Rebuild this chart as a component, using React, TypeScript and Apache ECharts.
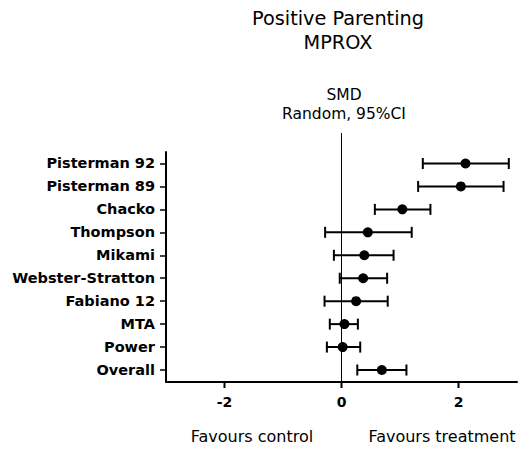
import React, { useEffect, useRef } from "react";
import * as echarts from "echarts";

const categories = [
  "Pisterman 92",
  "Pisterman 89",
  "Chacko",
  "Thompson",
  "Mikami",
  "Webster-Stratton",
  "Fabiano 12",
  "MTA",
  "Power",
  "Overall",
];
const estimates = [2.12, 2.04, 1.04, 0.45, 0.39, 0.37, 0.25, 0.05, 0.02, 0.69];
const lower = [1.39, 1.31, 0.57, -0.28, -0.13, -0.03, -0.29, -0.2, -0.25, 0.27];
const upper = [2.86, 2.77, 1.52, 1.2, 0.89, 0.78, 0.79, 0.28, 0.32, 1.11];
const xTicks = [-2, 0, 2];
const xMin = -3;
const xMax = 3;

const FONT = "DejaVu Sans";

export default function App() {
  const ref = useRef<HTMLDivElement>(null);
  useEffect(() => {
    if (!ref.current) return;
    const chart = echarts.init(ref.current, undefined, { renderer: "svg" });
    const errData = categories.map((c, i) => [lower[i], upper[i], i]);
    const ptData = categories.map((c, i) => [estimates[i], c]);
    chart.setOption({
      animation: false,
      grid: { left: 166, top: 152, width: 351, height: 229.5, containLabel: false },
      xAxis: {
        type: "value",
        min: xMin,
        max: xMax,
        splitLine: { show: false },
        axisLine: { show: true, onZero: false, lineStyle: { color: "#000", width: 2 } },
        axisTick: { show: false },
        axisLabel: {
          customValues: xTicks,
          color: "#000",
          fontFamily: FONT,
          fontWeight: "bold",
          fontSize: 14,
          margin: 13,
        },
      },
      yAxis: {
        type: "category",
        data: categories,
        inverse: true,
        axisLine: { show: true, onZero: false, lineStyle: { color: "#000", width: 2 } },
        axisTick: { show: true, alignWithLabel: true, length: 6, lineStyle: { color: "#000", width: 1.5 } },
        axisLabel: {
          color: "#000",
          fontFamily: FONT,
          fontWeight: "bold",
          fontSize: 14.5,
          margin: 11,
        },
        splitLine: { show: false },
      },
      series: [
        {
          type: "custom",
          data: errData,
          encode: { x: [0, 1], y: 2 },
          renderItem: (params: any, api: any) => {
            const y = api.value(2);
            const lo = api.coord([api.value(0), y]);
            const hi = api.coord([api.value(1), y]);
            const h = 5.5;
            const style = { stroke: "#000", lineWidth: 2 };
            return {
              type: "group",
              children: [
                { type: "line", shape: { x1: lo[0], y1: lo[1], x2: hi[0], y2: hi[1] }, style },
                { type: "line", shape: { x1: lo[0], y1: lo[1] - h, x2: lo[0], y2: lo[1] + h }, style },
                { type: "line", shape: { x1: hi[0], y1: hi[1] - h, x2: hi[0], y2: hi[1] + h }, style },
              ],
            };
          },
          z: 2,
        },
        {
          type: "scatter",
          data: ptData,
          symbol: "circle",
          symbolSize: 10,
          itemStyle: { color: "#000", opacity: 1 },
          z: 3,
        },
      ],
    });
    const x0 = chart.convertToPixel({ xAxisIndex: 0 }, 0) as number;
    const yBottom = 381;
    const tickLines = xTicks.map((v) => {
      const px = chart.convertToPixel({ xAxisIndex: 0 }, v) as number;
      return {
        type: "line",
        shape: { x1: px, y1: yBottom, x2: px, y2: yBottom + 7 },
        style: { stroke: "#000", lineWidth: 2 },
        z: 5,
      };
    });
    chart.setOption({
      graphic: [
        ...tickLines,
        {
          type: "line",
          shape: { x1: x0, y1: 133, x2: x0, y2: yBottom },
          style: { stroke: "#000", lineWidth: 1 },
          z: 1,
        },
        {
          type: "text",
          x: 338,
          y: 6,
          style: {
            text: "Positive Parenting\nMPROX",
            fontFamily: FONT,
            fontSize: 19.3,
            lineHeight: 24,
            fill: "#000",
            textAlign: "center",
            textVerticalAlign: "top",
          },
        },
        {
          type: "text",
          x: 344,
          y: 85,
          style: {
            text: "SMD\nRandom, 95%CI",
            fontFamily: FONT,
            fontSize: 15.5,
            lineHeight: 19.5,
            fill: "#000",
            textAlign: "center",
            textVerticalAlign: "top",
          },
        },
        {
          type: "text",
          x: 252,
          y: 436,
          style: {
            text: "Favours control",
            fontFamily: FONT,
            fontSize: 16,
            fill: "#000",
            textAlign: "center",
            textVerticalAlign: "middle",
          },
        },
        {
          type: "text",
          x: 442,
          y: 436,
          style: {
            text: "Favours treatment",
            fontFamily: FONT,
            fontSize: 16,
            fill: "#000",
            textAlign: "center",
            textVerticalAlign: "middle",
          },
        },
      ],
    });
    return () => chart.dispose();
  }, []);
  return (
    <div
      ref={ref}
      style={{ position: "fixed", left: 0, top: 0, width: 523, height: 449, background: "#fff" }}
    />
  );
}
